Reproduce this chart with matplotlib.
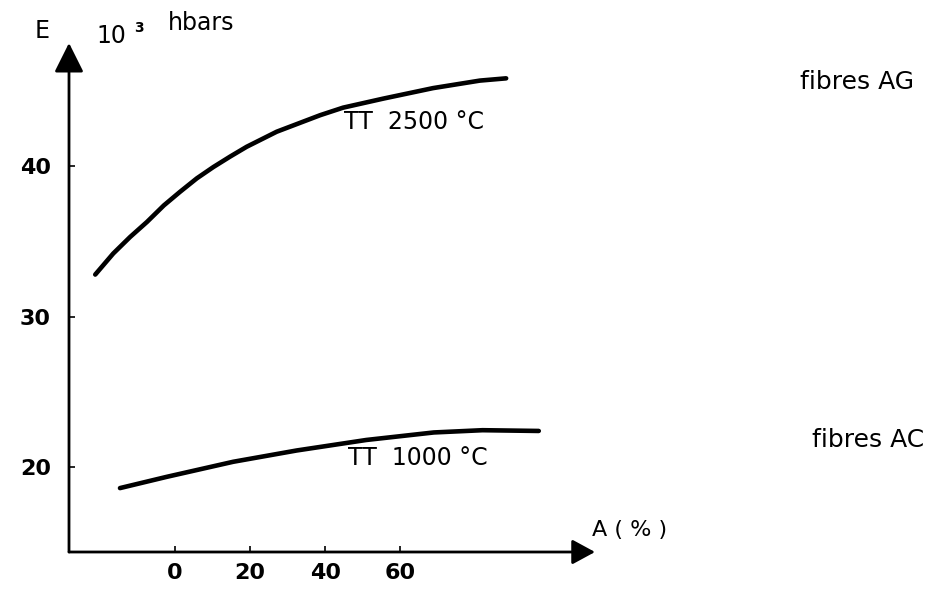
import matplotlib
matplotlib.use("Agg")
import matplotlib.pyplot as plt

# ---- data ----
x_ag = [-21.3, -16.5, -12, -7.5, -3, 1.3, 5.8, 10.2, 14.7, 19.1, 27.1,
        38.7, 44.8, 55.5, 68.8, 81.3, 88.3]
y_ag = [32.8, 34.2, 35.3, 36.3, 37.4, 38.3, 39.2, 39.95, 40.65, 41.3, 42.3,
        43.4, 43.9, 44.5, 45.2, 45.7, 45.85]

x_ac = [-14.7, -2.2, 15.5, 32.4, 51, 69, 82, 97]
y_ac = [18.6, 19.35, 20.35, 21.1, 21.8, 22.3, 22.45, 22.4]

x_ticks = [0, 20, 40, 60]
y_ticks = [20, 30, 40]

FONT = "DejaVu Sans"
W, H = 946, 590

fig = plt.figure(figsize=(W / 100, H / 100), dpi=100)
ax = fig.add_axes([69 / W, (H - 552) / H, (595 - 69) / W, (552 - 43) / H])
ax.set_xlim(-28.3, 112)
ax.set_ylim(14.35, 48.2)
for s in ax.spines.values():
    s.set_visible(False)
ax.patch.set_alpha(0)

# axes arrows
ax.annotate("", xy=(1, 0), xytext=(0, 0), xycoords="axes fraction",
            arrowprops=dict(arrowstyle="-|>,head_length=0.7,head_width=0.38",
                            mutation_scale=20, lw=2, color="black",
                            shrinkA=0, shrinkB=0))
ax.annotate("", xy=(0, 1), xytext=(0, 0), xycoords="axes fraction",
            arrowprops=dict(arrowstyle="-|>,head_length=0.9,head_width=0.45",
                            mutation_scale=20, lw=2, color="black",
                            shrinkA=0, shrinkB=0))

ax.set_xticks(x_ticks)
ax.set_yticks(y_ticks)
ax.set_xticklabels([str(v) for v in x_ticks], fontfamily=FONT, fontsize=16,
                   fontweight="bold")
ax.set_yticklabels([str(v) for v in y_ticks], fontfamily=FONT, fontsize=16,
                   fontweight="bold")
ax.tick_params(axis="x", direction="in", length=4, width=1.2, pad=8)
ax.tick_params(axis="y", direction="in", length=4, width=1.2, pad=13)

# curves
ax.plot(x_ag, y_ag, color="black", lw=3.3, solid_capstyle="round")
ax.plot(x_ac, y_ac, color="black", lw=3.3, solid_capstyle="round")

# curve labels
ax.text(45.0, 42.95, "TT  2500 °C", fontfamily=FONT, fontsize=17,
        ha="left", va="center")
ax.text(46.0, 20.6, "TT  1000 °C", fontfamily=FONT, fontsize=17,
        ha="left", va="center")

# axis titles and side labels (figure pixel positions)
def ftext(px, py, s, size=17, **kw):
    fig.text(px / W, 1 - py / H, s, fontfamily=FONT, fontsize=size,
             va="center", **kw)

ftext(42, 31, "E", ha="center")
ftext(96, 36, "10", ha="left")
ftext(134, 28, "3", size=10, ha="left", fontweight="bold")
ftext(168, 23, "hbars", ha="left")
ftext(592, 530, "A ( % )", size=16, ha="left")
ftext(800, 82, "fibres AG", size=18, ha="left")
ftext(812, 440, "fibres AC", size=18, ha="left")

fig.savefig("out.png", dpi=100, facecolor="white")
